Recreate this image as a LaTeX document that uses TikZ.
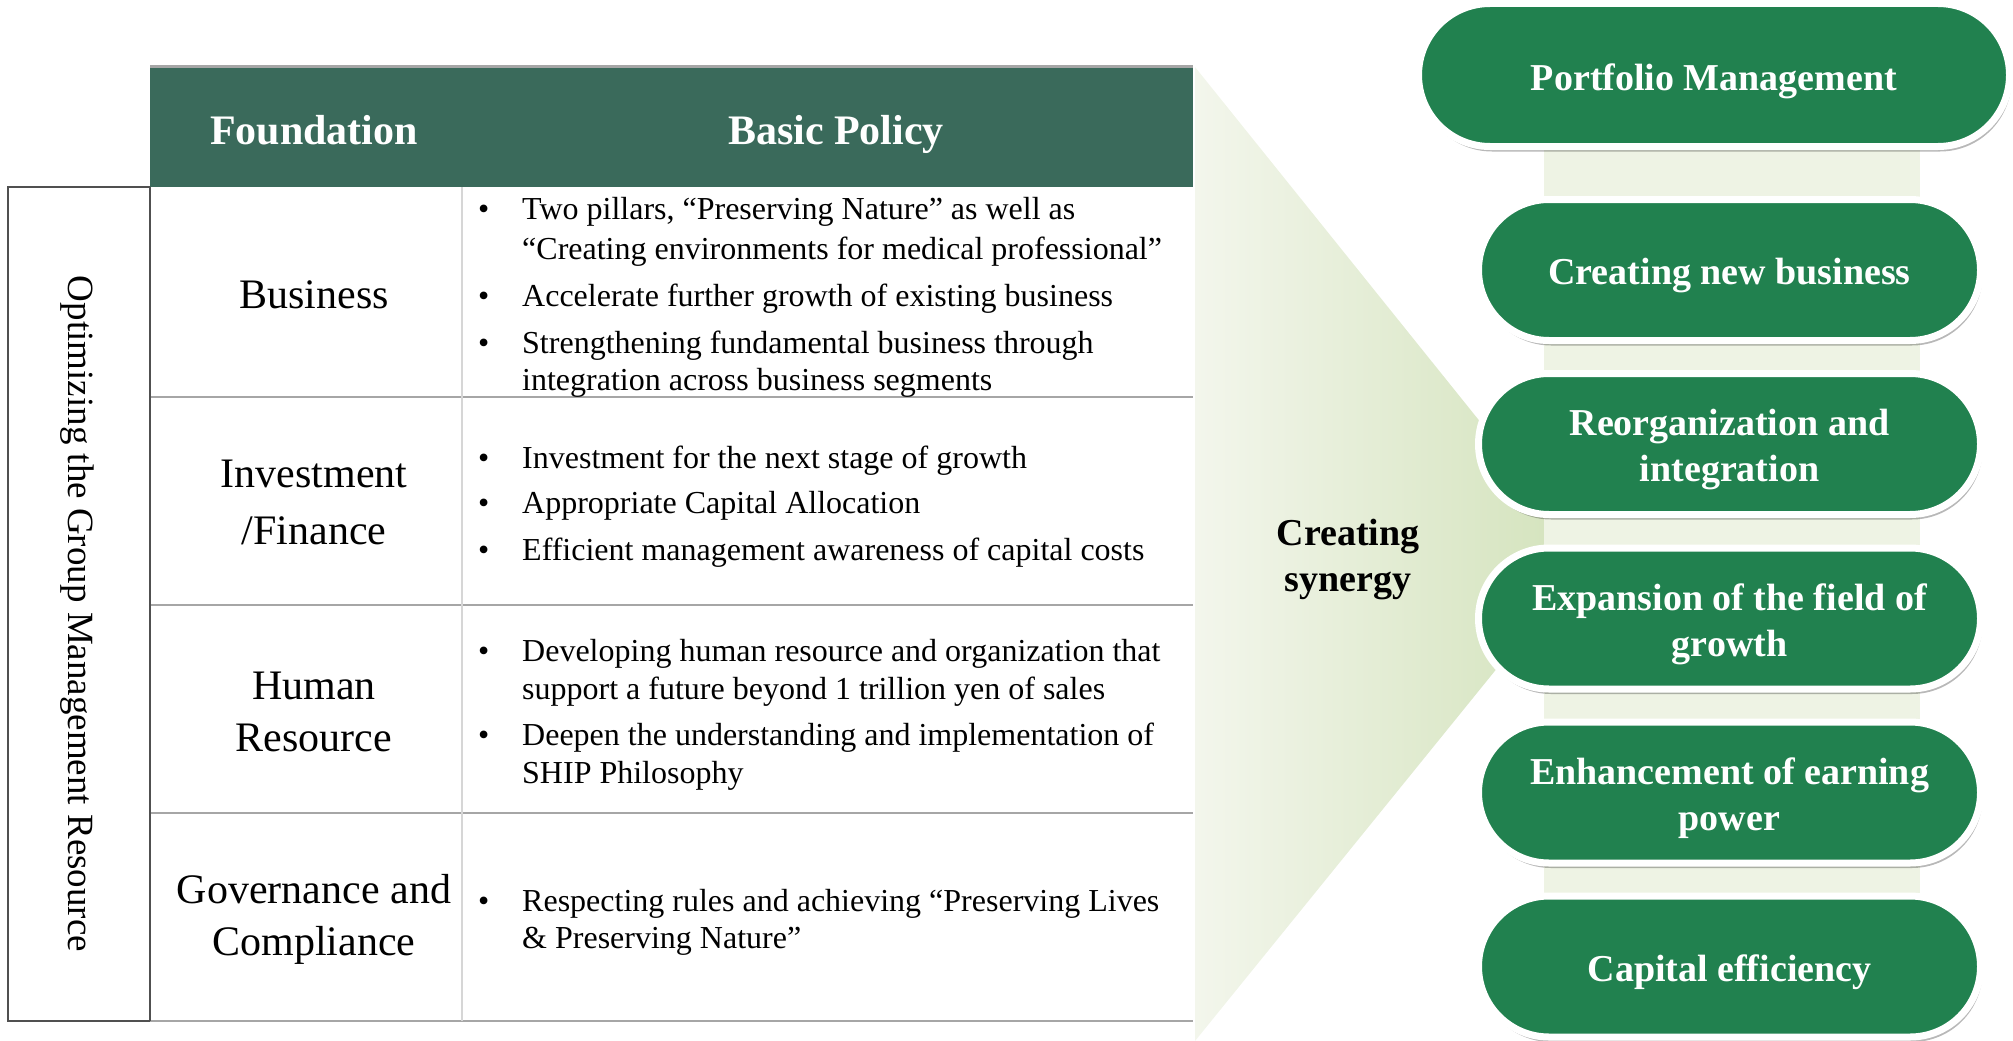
\documentclass[tikz,border=0pt]{standalone}
\usepackage{fontspec}
\setmainfont{Liberation Serif}
\usetikzlibrary{shapes.misc,shadows}

\definecolor{hdrgreen}{HTML}{3A6A5B}
\definecolor{pillgreen}{HTML}{21814F}
\definecolor{bandgreen}{HTML}{EEF3E4}
\definecolor{fanL}{HTML}{F3F6EC}
\definecolor{fanR}{HTML}{D2E2BA}
\definecolor{rowline}{HTML}{A6A6A6}
\definecolor{colline}{HTML}{D6D6D6}
\definecolor{boxline}{HTML}{505050}

\begin{document}
\begin{tikzpicture}[x=1pt,y=-1pt,
  cell/.style={font=\fontsize{42}{52}\selectfont, align=center, anchor=center, inner sep=0},
  hdr/.style={font=\bfseries\fontsize{42}{50}\selectfont, text=white, anchor=base, inner sep=0},
  bul/.style={font=\fontsize{32}{40}\selectfont, anchor=base west, inner sep=0},
  pill/.style={rounded rectangle, fill=pillgreen, draw=white, line width=7,
    minimum height=141, minimum width=502, inner sep=0,
    drop shadow={shadow xshift=2pt, shadow yshift=-5pt, fill=black, opacity=0.28}},
  pilltext/.style={text=white, align=center, inner sep=0,
    font=\bfseries\fontsize{38}{46}\selectfont},
  sidebox/.style={draw=boxline, line width=1.5},
  rule/.style={draw=rowline, line width=2.5}]

\useasboundingbox (0,0) rectangle (2013,1041);

% light funnel between the table and the pills
\shade[left color=fanL, right color=fanR] (1195,67) -- (1588,556) -- (1195,1041) -- cycle;

% vertical band behind the pills
\fill[bandgreen] (1544,100) rectangle (1920,990);

% header band
\fill[hdrgreen] (150,67) rectangle (1193,187);
\draw[draw=gray!70, line width=3] (150,67) -- (1193,67);
\node[hdr] (hfound) at (314,144) {Foundation};
\node[hdr] (hpolicy) at (836,144) {Basic Policy};

% table rules
\draw[rule] (150,397) -- (1193,397);
\draw[rule] (150,605) -- (1193,605);
\draw[rule] (150,813) -- (1193,813);
\draw[rule] (150,1021) -- (1193,1021);
\draw[draw=colline, line width=2] (462,187) -- (462,1021);

% side box
\draw[sidebox] (150,187) -- (8,187) -- (8,1021) -- (150,1021);
\draw[sidebox] (150,187) -- (150,1021);
\node[rotate=-90, font=\fontsize{37}{44}\selectfont, inner sep=0] (side) at (77,614)
  {Optimizing the Group Management Resource};

% foundation column
\node[cell] (cbus) at (314,295) {Business};
\node[cell, font=\fontsize{42}{57}\selectfont] (cinv) at (314,502) {Investment\\/Finance};
\node[cell] (chr) at (314,712) {Human\\Resource};
\node[cell] (cgov) at (314,919) {Governance and\\Compliance};

% basic policy column
\node[bul] (d1) at (478,219) {•};
\node[bul] (t1a) at (522,219) {Two pillars, “Preserving Nature” as well as};
\node[bul] (t1b) at (522,259) {“Creating environments for medical professional”};
\node[bul] (d2) at (478,306) {•};
\node[bul] (t2) at (522,306) {Accelerate further growth of existing business};
\node[bul] (d3) at (478,353) {•};
\node[bul] (t3a) at (522,353) {Strengthening fundamental business through};
\node[bul] (t3b) at (522,390) {integration across business segments};

\node[bul] (d4) at (478,468) {•};
\node[bul] (t4) at (522,468) {Investment for the next stage of growth};
\node[bul] (d5) at (478,513) {•};
\node[bul] (t5) at (522,513) {Appropriate Capital Allocation};
\node[bul] (d6) at (478,560) {•};
\node[bul] (t6) at (522,560) {Efficient management awareness of capital costs};

\node[bul] (d7) at (478,661) {•};
\node[bul] (t7a) at (522,661) {Developing human resource and organization that};
\node[bul] (t7b) at (522,699) {support a future beyond 1 trillion yen of sales};
\node[bul] (d8) at (478,745) {•};
\node[bul] (t8a) at (522,745) {Deepen the understanding and implementation of};
\node[bul] (t8b) at (522,783) {SHIP Philosophy};

\node[bul] (d9) at (478,911) {•};
\node[bul] (t9a) at (522,911) {Respecting rules and achieving “Preserving Lives};
\node[bul] (t9b) at (522,948) {\& Preserving Nature”};

% funnel label
\node[font=\bfseries\fontsize{38}{46}\selectfont, align=center, inner sep=0] (syn) at (1348,560)
  {Creating\\synergy};

% pills
\node[pill, minimum width=591, minimum height=143] (p1) at (1714,75) {};
\node[pill] (p2) at (1729.5,270) {};
\node[pill] (p3) at (1729.5,444) {};
\node[pill] (p4) at (1729.5,618.5) {};
\node[pill] (p5) at (1729.5,792.5) {};
\node[pill] (p6) at (1729.5,966.5) {};

% pill labels
\node[pilltext] (p1t) at ([yshift=-6pt]p1.center) {Portfolio Management};
\node[pilltext] (p2t) at ([yshift=-6pt]p2.center) {Creating new business};
\node[pilltext] (p3t) at ([yshift=-6pt]p3.center) {Reorganization and\\integration};
\node[pilltext] (p4t) at ([yshift=-6pt]p4.center) {Expansion of the field of\\growth};
\node[pilltext] (p5t) at ([yshift=-6pt]p5.center) {Enhancement of earning\\power};
\node[pilltext] (p6t) at ([yshift=-6pt]p6.center) {Capital efficiency};

\end{tikzpicture}
\end{document}
